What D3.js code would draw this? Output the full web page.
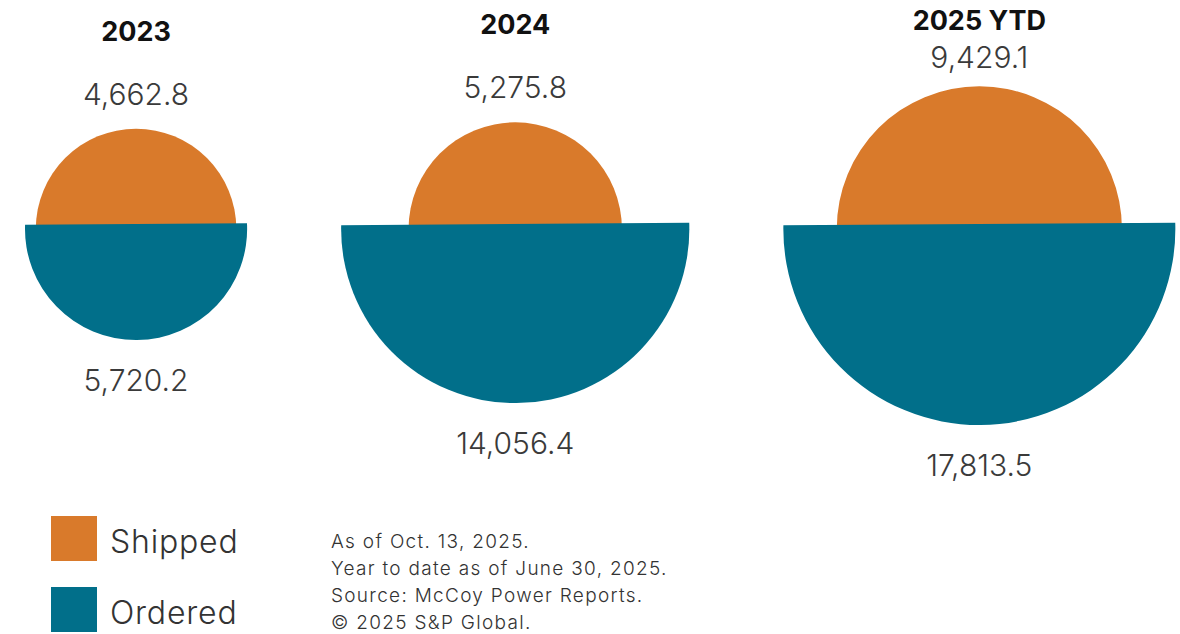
<!DOCTYPE html>
<html>
<head>
<meta charset="utf-8">
<script src="https://cdn.jsdelivr.net/npm/d3@7"></script>
<style>
  html, body { margin: 0; padding: 0; background: #ffffff; }
  svg { display: block; font-family: Inter, "Noto Sans", sans-serif; }
</style>
</head>
<body>
<svg id="chart" width="1180" height="634"></svg>
<script>
// Data
const years = ["2023", "2024", "2025 YTD"];
const shipped = [4662.8, 5275.8, 9429.1];
const ordered = [5720.2, 14056.4, 17813.5];
const seriesNames = ["Shipped", "Ordered"];
const notes = [
    "As of Oct. 13, 2025.",
    "Year to date as of June 30, 2025.",
    "Source: McCoy Power Reports.",
    "© 2025 S&P Global."
];

const COLORS = ["#d97a2b", "#016f8a"];
const width = 1180;
const height = 634;

const svg = d3.select("#chart")
    .attr("viewBox", `0 0 ${width} ${height}`);

// area-true radius scale
const r = d3.scaleSqrt()
    .domain([0, d3.max(ordered)])
    .range([0, 196]);

const fmt = d3.format(",.1f");

// lay groups out left to right by their ordered radius
const LEFT = 25;
const GAP = 94;
const CY = 229;
const CUT = 5; // ordered top edge sits a little above the centre

const groups = years.map((y, i) => ({
    year: y,
    shipped: shipped[i],
    ordered: ordered[i],
    rS: r(shipped[i]),
    rO: r(ordered[i])
}));

let x = LEFT;
groups.forEach(g => {
    const big = Math.max(g.rS, g.rO);
    g.cx = x + big;
    x += big * 2 + GAP;
    // label + title positions follow the shape, but never climb off the top
    g.topLabelY = Math.max(68, CY - g.rS - 24);
    g.titleY = Math.max(30, g.topLabelY - 64);
});

function upperHalf(cx, cy, rad) {
    const p = d3.path();
    p.moveTo(cx - rad, cy);
    p.arc(cx, cy, rad, Math.PI, 2 * Math.PI, false);
    p.closePath();
    return p.toString();
}

function lowerCut(cx, cy, rad, h) {
    const w = Math.sqrt(rad * rad - h * h);
    const d = Math.asin(h / rad);
    const p = d3.path();
    p.moveTo(cx - w, cy - h);
    p.arc(cx, cy, rad, Math.PI + d, -d, true);
    p.closePath();
    return p.toString();
}

const g = svg.selectAll("g.group")
    .data(groups)
    .join("g")
    .attr("class", "group");

g.append("path")
    .attr("d", d => upperHalf(d.cx, CY, d.rS))
    .attr("fill", COLORS[0]);

g.append("path")
    .attr("d", d => lowerCut(d.cx, CY, d.rO, CUT))
    .attr("transform", d => `rotate(-0.4, ${d.cx}, ${CY})`)
    .attr("fill", COLORS[1]);

// value labels
g.append("text")
    .attr("x", d => d.cx)
    .attr("y", d => d.topLabelY)
    .attr("text-anchor", "middle")
    .attr("font-size", 30)
    .attr("font-weight", 300)
    .attr("fill", "#3a3a3a")
    .text(d => fmt(d.shipped));

g.append("text")
    .attr("x", d => d.cx)
    .attr("y", d => CY + d.rO + 51)
    .attr("text-anchor", "middle")
    .attr("font-size", 30)
    .attr("font-weight", 300)
    .attr("fill", "#3a3a3a")
    .text(d => fmt(d.ordered));

// year titles
g.append("text")
    .attr("x", d => d.cx)
    .attr("y", d => d.titleY)
    .attr("text-anchor", "middle")
    .attr("font-size", 27)
    .attr("font-weight", 700)
    .attr("fill", "#111111")
    .text(d => d.year);

// legend
const legend = svg.append("g")
    .selectAll("g")
    .data(seriesNames)
    .join("g")
    .attr("transform", (d, i) => `translate(51, ${516 + i * 71})`);

legend.append("rect")
    .attr("width", 46)
    .attr("height", 45)
    .attr("fill", (d, i) => COLORS[i]);

legend.append("text")
    .attr("x", 59)
    .attr("y", 37)
    .attr("font-size", 32)
    .attr("font-weight", 300)
    .attr("letter-spacing", 0.8)
    .attr("fill", "#333333")
    .text(d => d);

// footnotes
svg.append("g")
    .selectAll("text")
    .data(notes)
    .join("text")
    .attr("x", 331)
    .attr("y", (d, i) => 548 + i * 27)
    .attr("font-size", 19)
    .attr("font-weight", 300)
    .attr("letter-spacing", 1.3)
    .attr("fill", "#333333")
    .text(d => d);
</script>
</body>
</html>
